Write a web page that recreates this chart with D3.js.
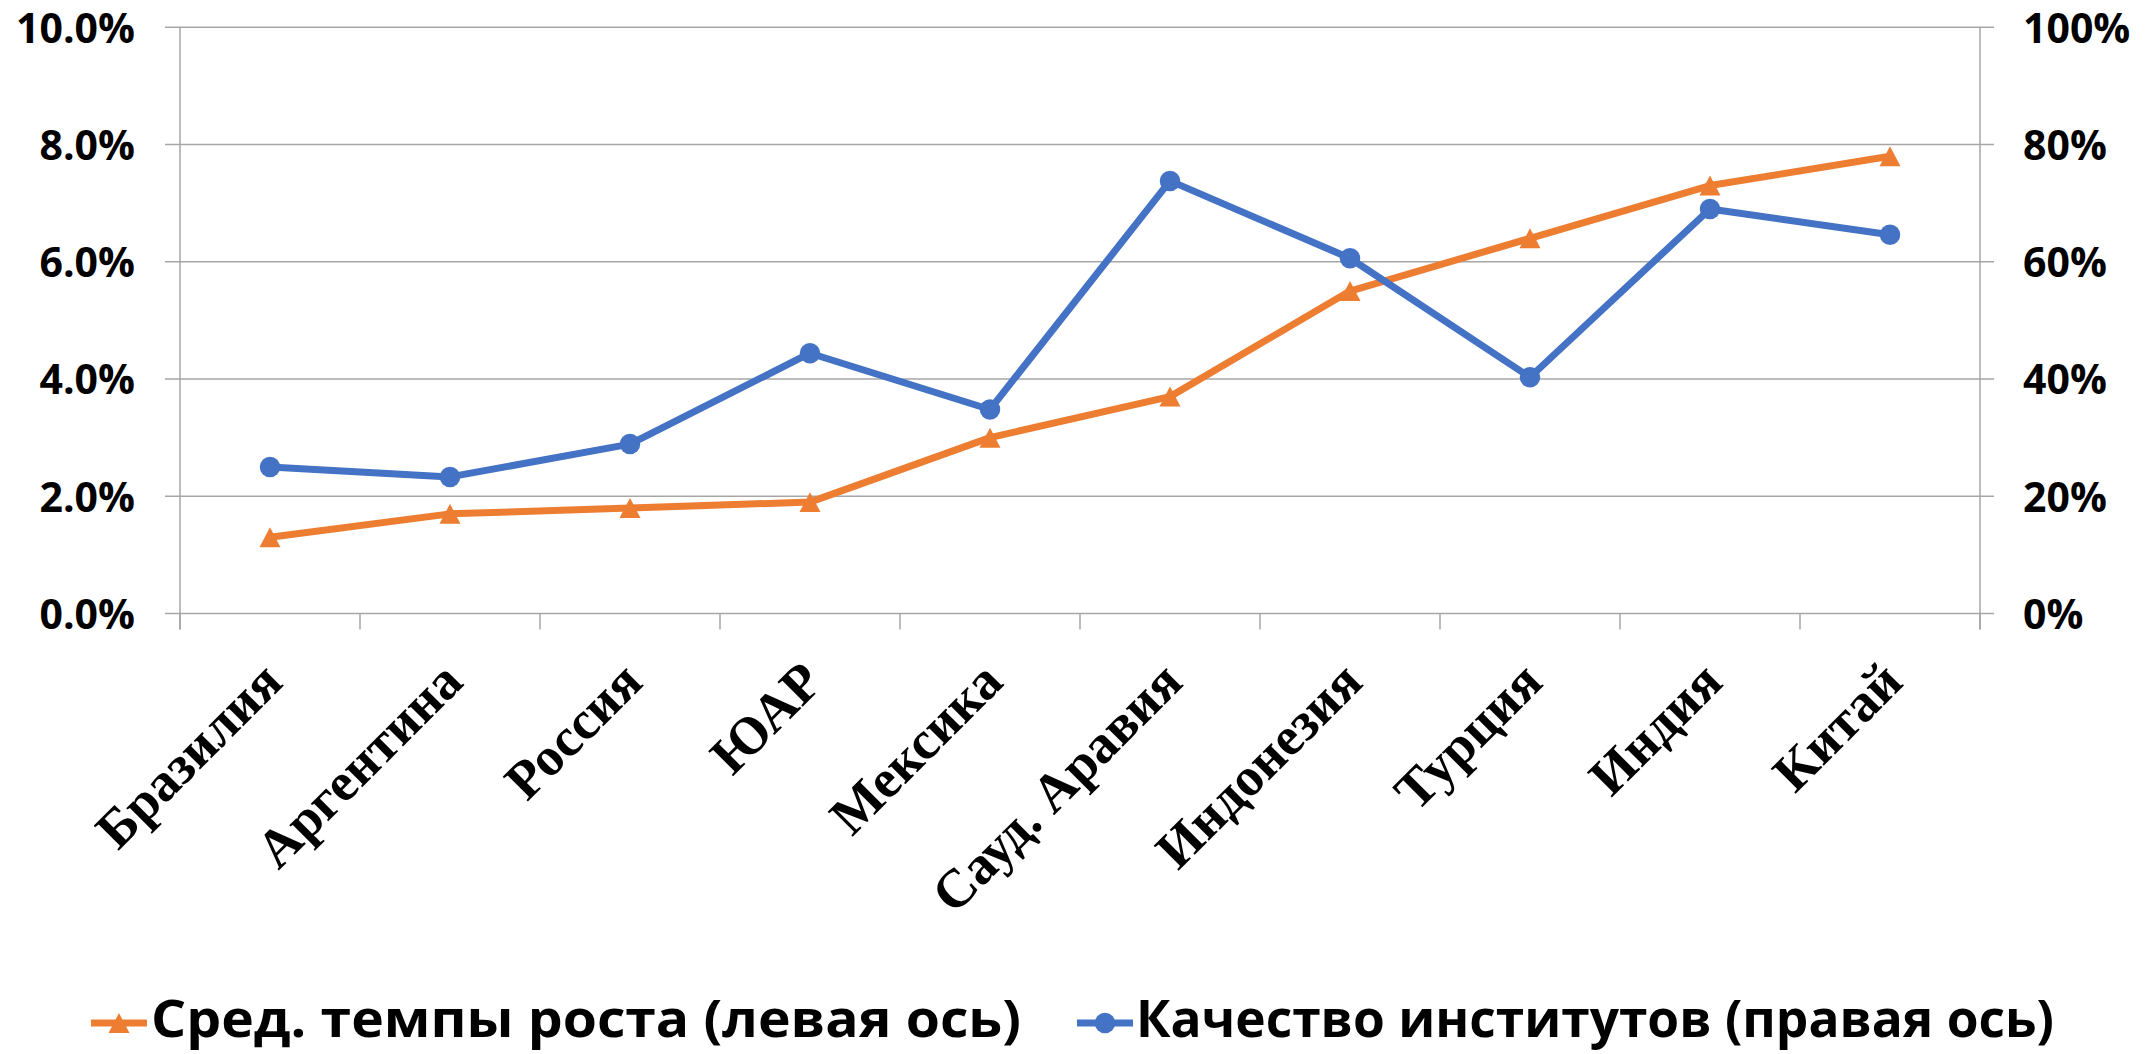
<!DOCTYPE html>
<html><head><meta charset="utf-8">
<script src="https://cdn.jsdelivr.net/npm/d3@7"></script>
<style>
html,body{margin:0;padding:0;background:#fff;}
svg{display:block;}
</style></head>
<body>
<svg id="chart" width="2156" height="1054"></svg>
<script>
const categories = ["Бразилия","Аргентина","Россия","ЮАР","Мексика","Сауд. Аравия","Индонезия","Турция","Индия","Китай"];
const growthValues = [0.013,0.017,0.018,0.019,0.030,0.037,0.055,0.064,0.073,0.078];
const institutionValues = [0.250,0.233,0.289,0.444,0.348,0.738,0.606,0.403,0.690,0.646];
const leftTicks = [0,0.02,0.04,0.06,0.08,0.10];
const rightTicks = [0,0.2,0.4,0.6,0.8,1.0];
const seriesNames = ["Сред. темпы роста (левая ось)","Качество институтов (правая ось)"];

const svg = d3.select("#chart");
const L = 180, R = 1980, T = 27.3, B = 613.5;
const orange = "#ED7D31", blue = "#4472C4", grid = "#A6A6A6";

const x = d3.scaleBand().domain(categories).range([L, R]).padding(0);
const yL = d3.scaleLinear().domain([0, 0.10]).range([B, T]);
const yR = d3.scaleLinear().domain([0, 1]).range([B, T]);

// gridlines
svg.append("g").selectAll("line").data(leftTicks).join("line")
  .attr("x1", L - 15).attr("x2", R + 14)
  .attr("y1", d => yL(d)).attr("y2", d => yL(d))
  .attr("stroke", grid).attr("stroke-width", 1.5);

// left axis
const gl = svg.append("g").attr("transform", `translate(${L},0)`)
  .call(d3.axisLeft(yL).tickValues(leftTicks).tickFormat(d3.format(".1%")).tickSize(0).tickPadding(45));
gl.select(".domain").remove();
gl.selectAll("text").attr("font-family", "'Open Sans', sans-serif").attr("font-weight", "bold")
  .attr("font-size", 41).attr("fill", "#000").attr("dy", "0.36em");

// right axis
const gr = svg.append("g").attr("transform", `translate(${R},0)`)
  .call(d3.axisRight(yR).tickValues(rightTicks).tickFormat(d3.format(".0%")).tickSize(0).tickPadding(43));
gr.select(".domain").remove();
gr.selectAll("text").attr("font-family", "'Open Sans', sans-serif").attr("font-weight", "bold")
  .attr("font-size", 41).attr("fill", "#000").attr("dy", "0.36em");

// vertical axis lines
svg.append("line").attr("x1", L).attr("x2", L).attr("y1", T).attr("y2", B + 16).attr("stroke", grid).attr("stroke-width", 1.5);
svg.append("line").attr("x1", R).attr("x2", R).attr("y1", T).attr("y2", B + 16).attr("stroke", grid).attr("stroke-width", 1.5);

// x axis ticks at band boundaries
const bounds = categories.map(c => x(c)).concat([R]);
svg.append("g").selectAll("line").data(bounds).join("line")
  .attr("x1", d => d).attr("x2", d => d).attr("y1", B).attr("y2", B + 16)
  .attr("stroke", grid).attr("stroke-width", 1.5);

// x labels
svg.append("g").selectAll("text").data(categories).join("text")
  .attr("transform", d => `translate(${x(d) + x.bandwidth() / 2 + 15},${B + 71}) rotate(-45)`)
  .attr("text-anchor", "end")
  .attr("font-family", "'Liberation Serif', 'Times New Roman', serif")
  .attr("font-weight", "bold").attr("font-size", 54).attr("fill", "#000")
  .text(d => d);

const cx = d => x(d) + x.bandwidth() / 2;

// orange line
svg.append("path").datum(growthValues)
  .attr("d", d3.line().x((d, i) => cx(categories[i])).y(d => yL(d)))
  .attr("fill", "none").attr("stroke", orange).attr("stroke-width", 7).attr("stroke-linejoin", "round");
// blue line
svg.append("path").datum(institutionValues)
  .attr("d", d3.line().x((d, i) => cx(categories[i])).y(d => yR(d)))
  .attr("fill", "none").attr("stroke", blue).attr("stroke-width", 7).attr("stroke-linejoin", "round");

// triangle centred on its bounding box
const triBox = {
  draw(ctx, size) {
    const w = Math.sqrt(size * 2 / 0.95), h = w * 0.95;
    ctx.moveTo(0, -h / 2); ctx.lineTo(w / 2, h / 2); ctx.lineTo(-w / 2, h / 2); ctx.closePath();
  }
};
const tri = d3.symbol().type(triBox).size(210);
const circ = d3.symbol().type(d3.symbolCircle).size(330);

svg.append("g").selectAll("path").data(growthValues).join("path")
  .attr("d", tri).attr("fill", orange)
  .attr("transform", (d, i) => `translate(${cx(categories[i])},${yL(d)})`);
svg.append("g").selectAll("path").data(institutionValues).join("path")
  .attr("d", circ).attr("fill", blue)
  .attr("transform", (d, i) => `translate(${cx(categories[i])},${yR(d)})`);

// legend
const legY = 1023;
const leg = [
  {name: seriesNames[0], color: orange, sym: tri, lx: 91, tx: 151, tl: 870},
  {name: seriesNames[1], color: blue, sym: circ, lx: 1077, tx: 1136, tl: 918}
];
leg.forEach(l => {
  svg.append("line").attr("x1", l.lx).attr("x2", l.lx + 56).attr("y1", legY).attr("y2", legY)
    .attr("stroke", l.color).attr("stroke-width", 7);
  svg.append("path").attr("d", l.sym).attr("fill", l.color)
    .attr("transform", `translate(${l.lx + 28},${legY})`);
  svg.append("text").attr("x", l.tx).attr("y", 1037)
    .attr("font-family", "'Open Sans', sans-serif").attr("font-weight", "bold").attr("font-size", 52)
    .attr("textLength", l.tl).attr("lengthAdjust", "spacingAndGlyphs").attr("fill", "#000")
    .text(l.name);
});
</script>
</body></html>
